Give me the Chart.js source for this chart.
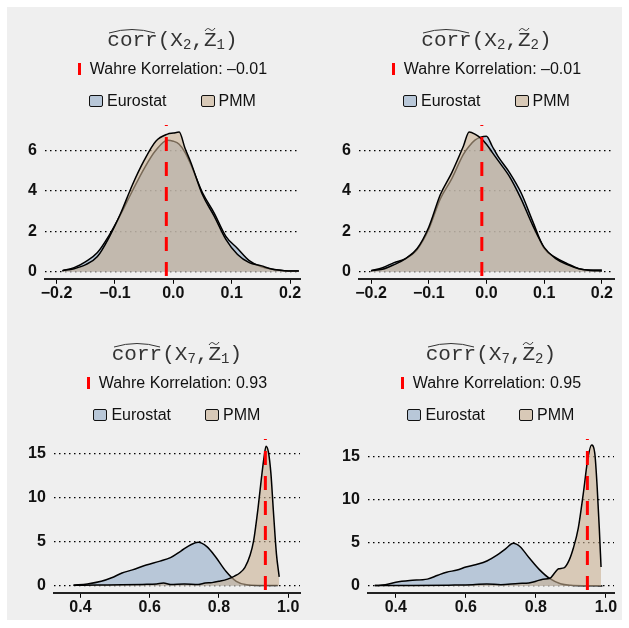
<!DOCTYPE html>
<html>
<head>
<meta charset="utf-8">
<script src="https://cdn.jsdelivr.net/npm/chart.js@4"></script>
<style>
body { margin: 0; background: #fff; width: 629px; height: 628px; position: relative; overflow: hidden; font-family: "Liberation Sans", Arial, sans-serif; }
#bg { position: absolute; left: 7px; top: 7px; width: 615px; height: 613px; background: #efefef; }
.panel { position: absolute; width: 314px; height: 314px; }
.panel canvas { position: absolute; left: 0; top: 0; }
.head { position: absolute; top: 0; height: 120px; text-align: center; white-space: nowrap; }
.ttl { position: absolute; left: 0; right: 0; top: 29px; font-family: "Liberation Mono", monospace; font-size: 21px; line-height: 24px; color: #333; }
.ttl .sub { font-size: 14px; position: relative; top: 3px; }
.acc { position: relative; display: inline-block; }
.acc svg { position: absolute; left: 0; overflow: visible; }
.wahr { position: absolute; left: 0; right: 0; top: 59px; font-size: 16px; line-height: 20px; color: #111; }
.bar { display: inline-block; width: 3px; height: 12px; background: #ff0000; vertical-align: -1px; margin-right: 9px; }
.leg { position: absolute; left: 0; right: 0; top: 91px; font-size: 16px; line-height: 20px; color: #111; }
.box { display: inline-block; width: 12px; height: 10px; border: 1.5px solid #111; border-radius: 2px; vertical-align: -1px; margin-right: 4px; }
.gap { display: inline-block; width: 34px; }
</style>
</head>
<body>
<div id="bg"></div>
<div class="panel" style="left:0;top:0"><canvas id="c1" width="314" height="314"></canvas><div class="head" id="h1"></div></div>
<div class="panel" style="left:314px;top:0"><canvas id="c2" width="314" height="314"></canvas><div class="head" id="h2"></div></div>
<div class="panel" style="left:0;top:314px"><canvas id="c3" width="314" height="314"></canvas><div class="head" id="h3"></div></div>
<div class="panel" style="left:314px;top:314px"><canvas id="c4" width="314" height="314"></canvas><div class="head" id="h4"></div></div>
<script>
// panel titles: corr(X_a, Z~_b)
const xSub = ["2", "2", "7", "7"];
const zSub = ["1", "2", "1", "2"];
const trueCorr = [-0.012, -0.008, 0.934, 0.947];
const seriesNames = ["Eurostat", "PMM"];

// x ticks / y ticks per panel
const xTicksTop = [-0.2, -0.1, 0.0, 0.1, 0.2];
const xTicksBottom = [0.4, 0.6, 0.8, 1.0];
const yTicksTop = [0, 2, 4, 6];
const yTicksBottom = [0, 5, 10, 15];

// panel 1: corr(X2, Z1)
const p1X = [-0.19, -0.17, -0.15, -0.13, -0.11, -0.09, -0.07, -0.05, -0.03, -0.01, 0.0, 0.01, 0.02, 0.03, 0.05, 0.07, 0.09, 0.11, 0.13, 0.15, 0.17, 0.19, 0.215];
const p1Euro = [0.05, 0.2, 0.5, 0.95, 1.8, 2.85, 4.0, 5.1, 6.0, 6.5, 6.45, 6.3, 5.9, 5.3, 3.9, 2.9, 1.75, 1.15, 0.55, 0.25, 0.12, 0.05, 0.03];
const p1Pmm = [0.05, 0.15, 0.35, 0.75, 1.7, 2.9, 4.3, 5.5, 6.45, 6.8, 6.85, 6.9, 6.1, 5.4, 3.8, 2.75, 1.6, 0.85, 0.45, 0.3, 0.12, 0.05, 0.03];

// panel 2: corr(X2, Z2)
const p2X = [-0.2, -0.18, -0.16, -0.14, -0.12, -0.10, -0.08, -0.06, -0.04, -0.03, -0.02, -0.01, 0.0, 0.01, 0.02, 0.04, 0.06, 0.08, 0.10, 0.12, 0.14, 0.16, 0.18, 0.20];
const p2Euro = [0.05, 0.2, 0.45, 0.65, 1.1, 2.1, 3.6, 4.6, 5.8, 6.2, 6.5, 6.65, 6.7, 6.2, 5.7, 4.9, 3.9, 2.5, 1.15, 0.7, 0.4, 0.15, 0.08, 0.08];
const p2Pmm = [0.05, 0.12, 0.35, 0.65, 1.15, 2.2, 3.8, 4.9, 6.2, 6.9, 6.8, 6.6, 6.3, 5.9, 5.5, 4.7, 3.6, 2.3, 1.2, 0.65, 0.35, 0.15, 0.06, 0.04];

// panel 3: corr(X7, Z1)
const p3EuroX = [0.38, 0.42, 0.46, 0.49, 0.52, 0.55, 0.59, 0.63, 0.66, 0.69, 0.72, 0.74, 0.765, 0.79, 0.82, 0.85, 0.88, 0.92, 0.97];
const p3Euro = [0.05, 0.2, 0.5, 0.9, 1.45, 1.8, 2.35, 2.8, 3.2, 3.95, 4.7, 4.95, 4.45, 3.3, 1.65, 0.5, 0.1, 0.03, 0.02];
const p3PmmX = [0.38, 0.45, 0.52, 0.58, 0.62, 0.64, 0.66, 0.70, 0.74, 0.76, 0.78, 0.80, 0.825, 0.845, 0.86, 0.875, 0.89, 0.90, 0.913, 0.923, 0.93, 0.936, 0.943, 0.95, 0.957, 0.966, 0.974];
const p3Pmm = [0.05, 0.08, 0.1, 0.15, 0.2, 0.3, 0.15, 0.2, 0.15, 0.3, 0.35, 0.5, 0.75, 1.1, 1.45, 2.1, 3.5, 5.1, 8.9, 12.4, 14.6, 15.9, 15.2, 12.8, 8.6, 3.6, 1.0];

// panel 4: corr(X7, Z2)
const p4EuroX = [0.34, 0.37, 0.40, 0.44, 0.49, 0.52, 0.545, 0.575, 0.60, 0.63, 0.66, 0.69, 0.715, 0.735, 0.755, 0.78, 0.81, 0.84, 0.87, 0.90, 0.94, 0.99];
const p4Euro = [0.05, 0.15, 0.45, 0.65, 0.8, 1.25, 1.6, 1.85, 2.2, 2.5, 2.9, 3.6, 4.35, 4.95, 4.55, 3.3, 1.9, 0.85, 0.27, 0.08, 0.03, 0.02];
const p4PmmX = [0.34, 0.45, 0.55, 0.62, 0.66, 0.70, 0.75, 0.78, 0.80, 0.82, 0.84, 0.855, 0.865, 0.88, 0.895, 0.907, 0.921, 0.935, 0.949, 0.959, 0.968, 0.975, 0.981, 0.986];
const p4Pmm = [0.05, 0.06, 0.1, 0.15, 0.25, 0.15, 0.3, 0.35, 0.55, 0.8, 0.9, 1.6, 2.0, 2.1, 3.0, 4.4, 6.7, 10.6, 14.9, 16.3, 15.4, 11.4, 6.7, 2.2];

const euroFill = "rgba(165, 185, 208, 0.75)";
const pmmFill = "rgba(200, 175, 145, 0.6)";

const panels = [
    { euroX: p1X, euro: p1Euro, pmmX: p1X, pmm: p1Pmm, xr: [-0.22, 0.217], yr: [-0.35, 7.25], xt: xTicksTop, yt: yTicksTop },
    { euroX: p2X, euro: p2Euro, pmmX: p2X, pmm: p2Pmm, xr: [-0.221, 0.221], yr: [-0.35, 7.25], xt: xTicksTop, yt: yTicksTop },
    { euroX: p3EuroX, euro: p3Euro, pmmX: p3PmmX, pmm: p3Pmm, xr: [0.323, 1.034], yr: [-0.81, 16.72], xt: xTicksBottom, yt: yTicksBottom },
    { euroX: p4EuroX, euro: p4Euro, pmmX: p4PmmX, pmm: p4Pmm, xr: [0.32, 1.023], yr: [-0.78, 17.0], xt: xTicksBottom, yt: yTicksBottom }
];

function pts(xs, ys) {
    return xs.map((x, i) => ({ x: x, y: ys[i] }));
}

function fmtX(v) {
    return v.toFixed(1).replace("-", "\u2212");
}

function headHtml(i) {
    const hat = '<svg width="50" height="7" style="top:-2px"><path d="M2,6 Q25,-1 48,6" fill="none" stroke="#333" stroke-width="1"/></svg>';
    const tilde = '<svg width="12" height="5" style="top:-2px"><path d="M1,4 Q3.5,0 6,2.5 T11,1" fill="none" stroke="#333" stroke-width="1"/></svg>';
    const val = trueCorr[i].toFixed(2).replace("-", "\u2013");
    return '<div class="ttl"><span class="acc">corr' + hat + '</span>(X<span class="sub">' + xSub[i] + '</span>,' +
        '<span class="acc">Z' + tilde + '</span><span class="sub">' + zSub[i] + '</span>)</div>' +
        '<div class="wahr"><span class="bar"></span>Wahre Korrelation: ' + val + '</div>' +
        '<div class="leg"><span class="box" style="background:' + euroFill + '"></span>' + seriesNames[0] +
        '<span class="gap"></span><span class="box" style="background:' + pmmFill + '"></span>' + seriesNames[1] + '</div>';
}

panels.forEach(function (p, i) {
    const ctx = document.getElementById("c" + (i + 1)).getContext("2d");
    const chart = new Chart(ctx, {
        type: "line",
        data: {
            datasets: [
                {
                    label: "Wahre Korrelation",
                    data: [{ x: trueCorr[i], y: p.yr[1] }, { x: trueCorr[i], y: p.yr[0] }],
                    borderColor: "#ff0000",
                    borderWidth: 3,
                    borderDash: [14, 11],
                    borderDashOffset: 13,
                    pointRadius: 0,
                    fill: false,
                    order: 0
                },
                {
                    label: seriesNames[1],
                    data: pts(p.pmmX, p.pmm),
                    borderColor: "#000",
                    backgroundColor: pmmFill,
                    borderWidth: 1.5,
                    pointRadius: 0,
                    cubicInterpolationMode: "monotone",
                    fill: "origin",
                    order: 1
                },
                {
                    label: seriesNames[0],
                    data: pts(p.euroX, p.euro),
                    borderColor: "#000",
                    backgroundColor: euroFill,
                    borderWidth: 1.5,
                    pointRadius: 0,
                    cubicInterpolationMode: "monotone",
                    fill: "origin",
                    order: 2
                }
            ]
        },
        options: {
            responsive: false,
            animation: false,
            layout: { padding: { top: 125, right: 14, bottom: 11, left: 20 } },
            plugins: { legend: { display: false }, tooltip: { enabled: false } },
            scales: {
                x: {
                    type: "linear",
                    min: p.xr[0],
                    max: p.xr[1],
                    afterBuildTicks: function (s) { s.ticks = p.xt.map(v => ({ value: v })); },
                    grid: { drawOnChartArea: false, drawTicks: true, tickLength: 5, color: "#000", lineWidth: 1 },
                    border: { display: true, color: "#222", width: 2 },
                    ticks: {
                        padding: 0,
                        color: "#111",
                        font: { family: "Liberation Sans", size: 16, weight: "bold" },
                        callback: v => fmtX(v)
                    }
                },
                y: {
                    min: p.yr[0],
                    max: p.yr[1],
                    afterBuildTicks: function (s) { s.ticks = p.yt.map(v => ({ value: v })); },
                    grid: { drawTicks: false, color: "#000", lineWidth: 1.3 },
                    border: { display: false, dash: [1.5, 3.5] },
                    ticks: {
                        padding: 8,
                        color: "#111",
                        font: { family: "Liberation Sans", size: 16, weight: "bold" },
                        callback: v => String(v)
                    }
                }
            }
        }
    });
    const head = document.getElementById("h" + (i + 1));
    head.style.left = chart.chartArea.left + "px";
    head.style.width = (chart.chartArea.right - chart.chartArea.left) + "px";
    head.innerHTML = headHtml(i);
});
</script>
</body>
</html>
